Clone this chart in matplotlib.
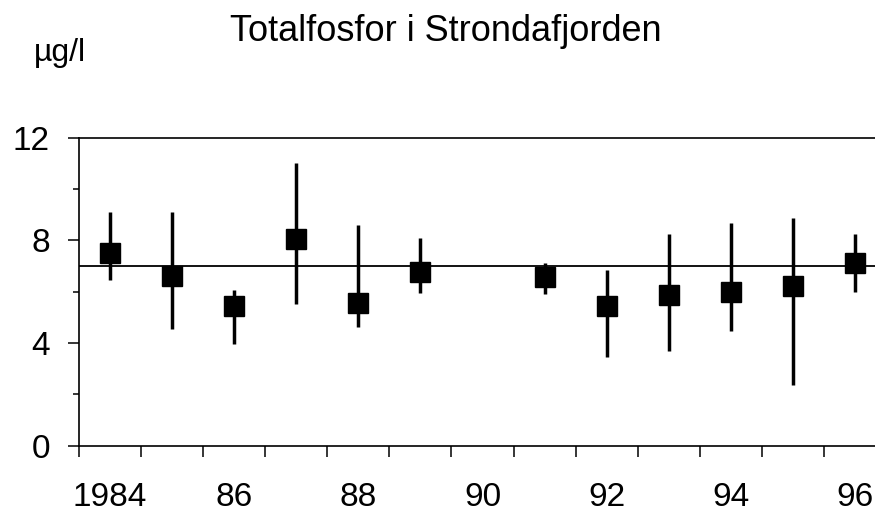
import matplotlib
matplotlib.use("Agg")
import matplotlib.pyplot as plt

# data (year, mean and min/max range, µg/l)
years = [1984, 1985, 1986, 1987, 1988, 1989, 1991, 1992, 1993, 1994, 1995, 1996]
means = [7.5, 6.6, 5.45, 8.05, 5.55, 6.75, 6.55, 5.45, 5.85, 6.0, 6.2, 7.1]
lows = [6.45, 4.55, 3.95, 5.5, 4.6, 5.95, 5.9, 3.45, 3.7, 4.45, 2.35, 6.0]
highs = [9.1, 9.1, 6.05, 11.0, 8.6, 8.1, 7.1, 6.85, 8.25, 8.65, 8.85, 8.25]
reference = 7.0

label_years = [1984, 1986, 1988, 1990, 1992, 1994, 1996]
label_text = ["1984", "86", "88", "90", "92", "94", "96"]

plt.rcParams["font.family"] = ["Liberation Sans", "DejaVu Sans"]

fig = plt.figure(figsize=(8.75, 5.14), dpi=100)
ax = fig.add_axes([79 / 875, 1 - 445.5 / 514, 807 / 875, 308 / 514])

x = [y + 0.5 for y in years]
yerr = [[m - lo for m, lo in zip(means, lows)], [hi - m for m, hi in zip(means, highs)]]
ax.errorbar(x, means, yerr=yerr, fmt="s", color="black", ms=14.5,
            elinewidth=2.5, capsize=0, zorder=3)
ax.axhline(reference, color="black", lw=1.3, zorder=2)

ax.set_xlim(1984, 1997)
ax.set_ylim(0, 12)

# year boundaries as ticks, labels centred in each year
ax.set_xticks(range(1984, 1998))
ax.set_xticklabels([])
ax.set_xticks([y + 0.5 for y in label_years], minor=True)
ax.set_xticklabels(label_text, minor=True)
ax.tick_params(axis="x", which="major", direction="out", length=8, width=1.1)
ax.tick_params(axis="x", which="minor", length=0, pad=26, labelsize=24)

ax.set_yticks([0, 4, 8, 12])
ax.set_yticks([2, 6, 10], minor=True)
ax.tick_params(axis="y", which="major", direction="out", length=8, width=1.1,
               pad=13, labelsize=24)
ax.tick_params(axis="y", which="minor", direction="out", length=4.5, width=1.1)

for side in ["left", "bottom", "top"]:
    ax.spines[side].set_linewidth(1.2)
ax.spines["right"].set_visible(False)

fig.text(446 / 875, 1 - 41 / 514, "Totalfosfor i Strondafjorden", ha="center",
         va="baseline", fontsize=26)
fig.text(34 / 875, 1 - 61 / 514, "µg/l", ha="left", va="baseline", fontsize=23)

fig.savefig("out.png", dpi=100)
